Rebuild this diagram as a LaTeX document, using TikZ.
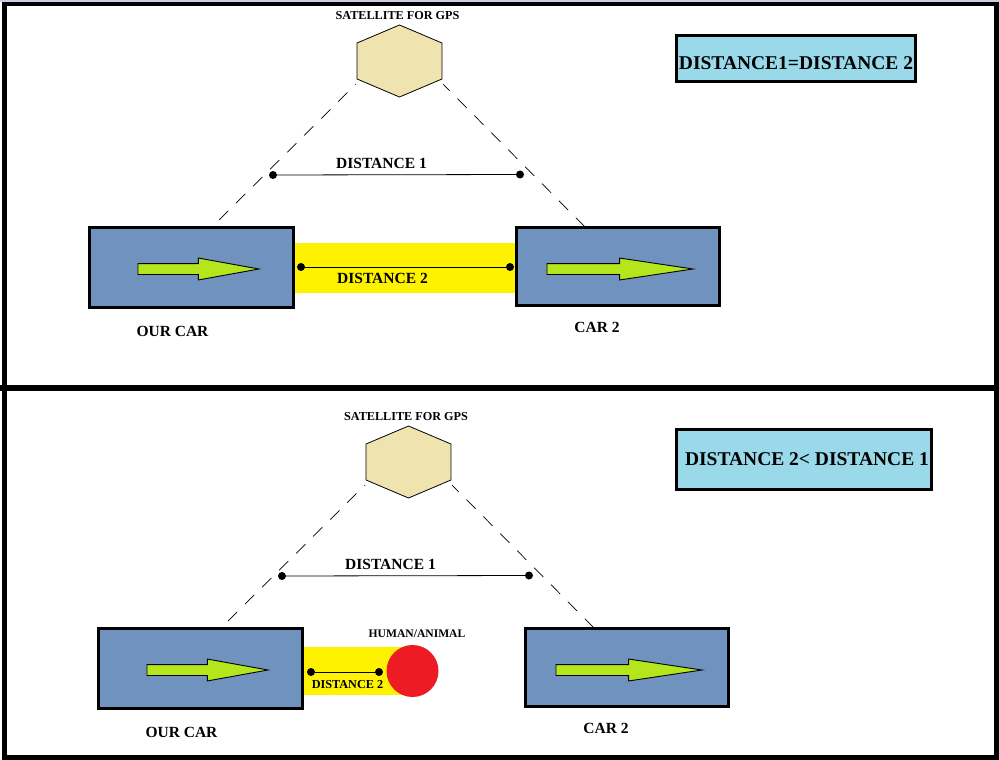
\documentclass[tikz,border=0pt]{standalone}
\usepackage{fontspec}
\setmainfont{Liberation Serif}
\usetikzlibrary{positioning,shapes.geometric,shapes.arrows}
\definecolor{carblue}{HTML}{7092BE}
\definecolor{gapyellow}{HTML}{FFF200}
\definecolor{sattan}{HTML}{EFE4B0}
\definecolor{infoblue}{HTML}{99D9EA}
\definecolor{arrowgreen}{HTML}{B5E61D}
\definecolor{hitred}{HTML}{ED1C24}
\definecolor{topband}{HTML}{C8D0E0}

\begin{document}
\begin{tikzpicture}[
  x=1pt, y=-1pt,
  border/.style={line width=5pt},
  car/.style={draw, fill=carblue, line width=3pt, inner sep=0pt},
  dir/.style={single arrow, draw=black, fill=arrowgreen, line width=0.9pt, inner xsep=0pt, inner ysep=5pt, single arrow head extend=5.5pt, anchor=tail},
  gap/.style={fill=gapyellow, inner sep=0pt},
  sat/.style={regular polygon, regular polygon sides=6, shape border rotate=30, draw, fill=sattan, line width=0.8pt, inner sep=0pt, minimum size=98pt, yscale=0.735, transform shape},
  info/.style={draw, fill=infoblue, line width=3pt, inner sep=0pt, font=\bfseries\fontsize{19.5}{21}\selectfont},
  dot/.style={circle, fill=black, inner sep=0pt, minimum size=8pt},
  ray/.style={line width=0.7pt, dash pattern=on 13pt off 11pt},
  span/.style={line width=0.8pt},
  lab/.style={font=\bfseries\fontsize{15.5}{17}\selectfont, inner sep=0pt},
  small/.style={font=\bfseries\fontsize{12.2}{14}\selectfont, inner sep=0pt},
]
\useasboundingbox (0,0) rectangle (999,760);
\fill[white] (0,0) rectangle (999,760);

% frame
\draw[border] (4.5,3.5) rectangle (996.5,757.5);
\coordinate (ml) at (0,388);
\coordinate (mr) at (999,388);
\draw[line width=6pt] (ml) -- (mr);
\fill[topband] (0,0) rectangle (999,2);

% upper panel
\node[small] (t1) at (397.5,15.5) {SATELLITE FOR GPS};
\node[sat] (s1) at (399.5,61) {};
\node[info, minimum width=239pt, minimum height=46pt, text height=22pt, text depth=0pt] (i1) at (796,58.5) {DISTANCE1=DISTANCE 2};
\node[gap, minimum width=222pt, minimum height=50pt] (y1) at (405.5,268) {};
\node[car, minimum width=204pt, minimum height=80pt] (a1) at (191.5,267.5) {};
\node[car, minimum width=203pt, minimum height=78pt] (b1) at (618,266.5) {};
\node[dir, minimum height=121pt, single arrow tip angle=20.5] (ad1) at (137.5,269) {};
\node[dir, minimum height=146pt, single arrow tip angle=17] (bd1) at (546.5,269) {};
\coordinate (r1a) at (356,84);
\coordinate (r1b) at (219,220);
\coordinate (r1c) at (443,84);
\coordinate (r1d) at (585,227);
\draw[ray] (r1b) -- (r1a);
\draw[ray] (r1d) -- (r1c);
\node[dot] (p1a) at (273,175) {};
\node[dot] (p1b) at (520,174.5) {};
\draw[span] (p1a) -- (p1b);
\node[lab] (l1) at (381.5,163) {DISTANCE 1};
\node[dot] (q1a) at (301,267) {};
\node[dot] (q1b) at (510,267) {};
\draw[span] (q1a) -- (q1b);
\node[lab] (m1) at (382.5,278.5) {DISTANCE 2};
\node[lab] (n1) at (172.5,331) {OUR CAR};
\node[lab] (c1) at (597,327) {CAR 2};

% lower panel
\node[small] (t2) at (406,416.5) {SATELLITE FOR GPS};
\node[sat] (s2) at (408.5,462) {};
\node[info, minimum width=255pt, minimum height=60pt] (i2) at (804,459.5) {\hspace*{6pt}\raisebox{-1pt}{DISTANCE 2< DISTANCE 1}};
\node[gap, minimum width=110pt, minimum height=48pt] (y2) at (358,671) {};
\node[car, minimum width=204pt, minimum height=80pt] (a2) at (200.5,668.5) {};
\node[car, minimum width=203pt, minimum height=78pt] (b2) at (627,667.5) {};
\node[dir, minimum height=121pt, single arrow tip angle=20.5] (ad2) at (146.5,670) {};
\node[dir, minimum height=146pt, single arrow tip angle=17] (bd2) at (555.5,670) {};
\coordinate (r2a) at (365,485);
\coordinate (r2b) at (228,621);
\coordinate (r2c) at (452,485);
\coordinate (r2d) at (594,628);
\draw[ray] (r2b) -- (r2a);
\draw[ray] (r2d) -- (r2c);
\node[dot] (p2a) at (282,576) {};
\node[dot] (p2b) at (529,575.5) {};
\draw[span] (p2a) -- (p2b);
\node[lab] (l2) at (390.5,564) {DISTANCE 1};
\node[circle, fill=hitred, inner sep=0pt, minimum size=52pt] (h2) at (412.5,671) {};
\node[dot] (q2a) at (311,672) {};
\node[dot] (q2b) at (379,672) {};
\draw[span] (q2a) -- (q2b);
\node[small] (m2) at (347.5,685) {DISTANCE 2};
\node[small, font=\bfseries\fontsize{11.6}{14}\selectfont] (k2) at (417,634) {HUMAN/ANIMAL};
\node[lab] (n2) at (181.5,732) {OUR CAR};
\node[lab] (c2) at (606,728) {CAR 2};
\end{tikzpicture}
\end{document}
